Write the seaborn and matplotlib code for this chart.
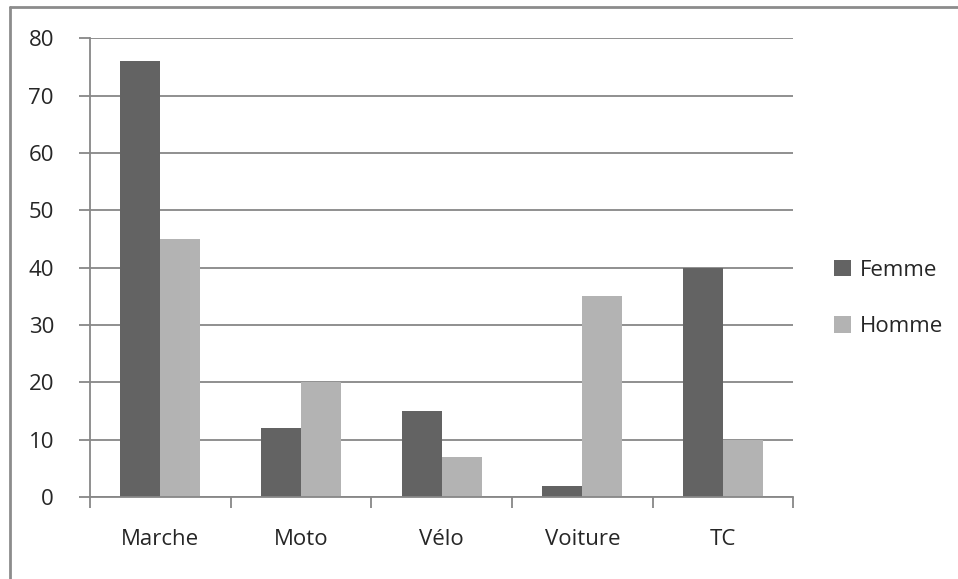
import pandas as pd
import matplotlib
matplotlib.use("Agg")
import matplotlib.pyplot as plt
from matplotlib.lines import Line2D
import seaborn as sns

# donnees
modes = ["Marche", "Moto", "Vélo", "Voiture", "TC"]
femme = [76, 12, 15, 2, 40]
homme = [45, 20, 7, 35, 10]
yticks = [0, 10, 20, 30, 40, 50, 60, 70, 80]

df = pd.DataFrame({
    "mode": modes * 2,
    "valeur": femme + homme,
    "sexe": ["Femme"] * len(modes) + ["Homme"] * len(modes),
})

sns.set_style("white")
plt.rcParams["font.family"] = ["Open Sans", "DejaVu Sans"]
fs = 16

fig = plt.figure(figsize=(9.58, 5.79), dpi=100)
ax = fig.add_axes([0.094, 0.1416, 0.734, 0.7924])

grid_col = "#878787"
sns.barplot(data=df, x="mode", y="valeur", hue="sexe", order=modes,
            palette={"Femme": "#636363", "Homme": "#b3b3b3"},
            width=0.57, saturation=1, linewidth=0, ax=ax, legend=True)

ax.set_xlim(-0.5, len(modes) - 0.5)
ax.set_ylim(0, 80)
ax.set_yticks(yticks)
ax.set_yticklabels([str(t) for t in yticks], fontsize=fs)
ax.yaxis.grid(True, color=grid_col, linewidth=1.3)
ax.set_axisbelow(True)
ax.set_xlabel("")
ax.set_ylabel("")

for side in ["top", "right"]:
    ax.spines[side].set_visible(False)
for side in ["left", "bottom"]:
    ax.spines[side].set_color(grid_col)
    ax.spines[side].set_linewidth(1.3)

# ticks x entre les categories, comme Excel
ax.set_xticks([i - 0.5 for i in range(len(modes) + 1)], minor=True)
ax.set_xticks(range(len(modes)))
ax.set_xticklabels(modes, fontsize=fs)
ax.tick_params(axis="x", which="major", length=0, pad=23)
ax.tick_params(axis="x", which="minor", length=8, color=grid_col, width=1.3, direction="out", bottom=True)
ax.tick_params(axis="y", length=8, color=grid_col, width=1.3, direction="out", left=True, pad=18)

leg = ax.legend(loc="center left", bbox_to_anchor=(1.058, 0.433), frameon=False,
                fontsize=fs, handlelength=0.75, handleheight=0.75,
                handletextpad=0.4, labelspacing=1.6, borderaxespad=0, borderpad=0)

# bordure du cadre (gauche et haut seulement)
fig.add_artist(Line2D([0.0105, 0.0105], [0, 0.988], color="#8c8c8c", lw=2, transform=fig.transFigure))
fig.add_artist(Line2D([0.0105, 1], [0.988, 0.988], color="#8c8c8c", lw=2, transform=fig.transFigure))

fig.savefig("out.png", dpi=100, facecolor="white")
